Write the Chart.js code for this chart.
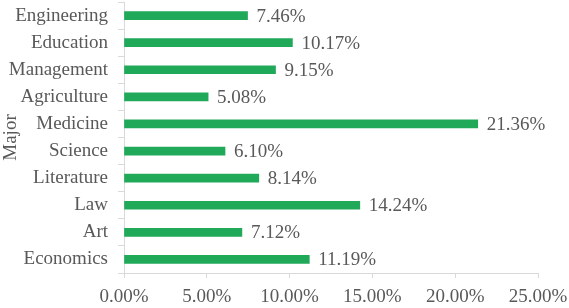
<!DOCTYPE html>
<html lang="en">
<head>
    <meta charset="UTF-8">
    <title>Major</title>
    <style>
        html, body { margin: 0; padding: 0; background: #fff; }
        #wrap { width: 569px; height: 308px; }
    </style>
</head>
<body>
    <div id="wrap">
        <canvas id="myChart" width="569" height="308"></canvas>
    </div>
<script src="https://cdn.jsdelivr.net/npm/chart.js"></script>
<script>
    // categories top to bottom, share in %
    const majors = ['Engineering', 'Education', 'Management', 'Agriculture', 'Medicine',
                    'Science', 'Literature', 'Law', 'Art', 'Economics'];
    const shares = [7.46, 10.17, 9.15, 5.08, 21.36, 6.10, 8.14, 14.24, 7.12, 11.19];
    const xTicks = [0, 5, 10, 15, 20, 25];

    const textColor = '#595959';
    const lineColor = '#d9d9d9';
    const serif = 'Liberation Serif, Times New Roman, serif';

    // value labels at the end of each bar
    const barLabels = {
        id: 'barLabels',
        afterDatasetsDraw(chart) {
            const ctx = chart.ctx;
            const meta = chart.getDatasetMeta(0);
            ctx.save();
            ctx.font = '19px ' + serif;
            ctx.fillStyle = textColor;
            ctx.textAlign = 'left';
            ctx.textBaseline = 'middle';
            meta.data.forEach((bar, i) => {
                ctx.fillText(shares[i].toFixed(2) + '%', bar.x + 9, bar.y + 1);
            });
            ctx.restore();
        }
    };

    const config = {
        type: 'bar',
        data: {
            labels: majors,
            datasets: [{
                data: shares,
                backgroundColor: '#21a95a',
                barThickness: 8
            }]
        },
        options: {
            indexAxis: 'y',
            responsive: false,
            animation: false,
            layout: { padding: { top: 2, right: 31, left: 0, bottom: 0 } },
            plugins: {
                legend: { display: false },
                tooltip: { enabled: false }
            },
            scales: {
                x: {
                    min: 0,
                    max: 25,
                    afterBuildTicks: (scale) => {
                        scale.ticks = xTicks.map(v => ({ value: v }));
                    },
                    afterFit: (scale) => {
                        scale.height = 35;
                        scale.paddingLeft = 0;
                        scale.paddingRight = 0;
                    },
                    grid: {
                        drawOnChartArea: false,
                        color: lineColor,
                        tickLength: 5
                    },
                    border: { color: lineColor },
                    ticks: {
                        color: textColor,
                        font: { family: serif, size: 19 },
                        padding: 8,
                        maxRotation: 0,
                        callback: (v) => Number(v).toFixed(2) + '%'
                    }
                },
                y: {
                    afterFit: (scale) => {
                        scale.width = 124;
                        scale.paddingTop = 0;
                        scale.paddingBottom = 0;
                    },
                    grid: {
                        drawOnChartArea: false,
                        offset: true,
                        color: lineColor,
                        tickLength: 6
                    },
                    border: { color: lineColor },
                    ticks: {
                        color: textColor,
                        font: { family: serif, size: 19 },
                        padding: 10,
                        autoSkip: false
                    },
                    title: {
                        display: true,
                        text: 'Major',
                        color: textColor,
                        font: { family: serif, size: 19 },
                        padding: 0
                    }
                }
            }
        },
        plugins: [barLabels]
    };

    new Chart(document.getElementById('myChart'), config);
</script>
</body>
</html>
